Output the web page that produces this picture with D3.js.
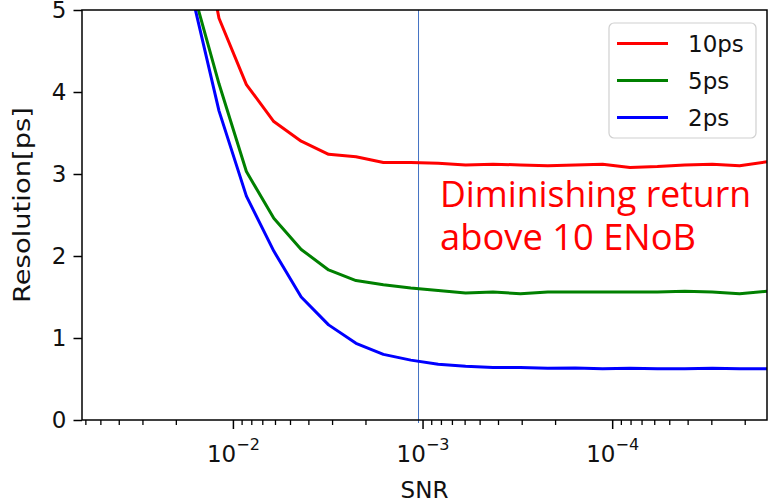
<!DOCTYPE html>
<html>
<head>
<meta charset="utf-8">
<script src="https://cdn.jsdelivr.net/npm/d3@7"></script>
<style>
  body { margin: 0; background: #fff; }
  svg { display: block; }
  .tick text { font-family: "DejaVu Sans", sans-serif; }
</style>
</head>
<body>
<svg width="769" height="503"></svg>
<script>
// effective number of bits for each simulated point, SNR = 2^-ENoB
const enob = [4, 4.48, 4.96, 5.44, 5.92, 6.4, 6.88, 7.36, 7.84, 8.32, 8.8, 9.28, 9.76,
              10.24, 10.72, 11.2, 11.68, 12.16, 12.64, 13.12, 13.6, 14.08, 14.56, 15.04, 15.52, 16];

// resolution [ps] for each sampling jitter
const res10 = [30, 20, 13, 9, 6.6, 4.9, 4.09, 3.64, 3.40, 3.24, 3.21, 3.14, 3.14,
               3.13, 3.11, 3.12, 3.11, 3.10, 3.11, 3.12, 3.08, 3.09, 3.11, 3.12, 3.10, 3.15];
const res5  = [17, 13, 10, 7.5, 5.3, 4.1, 3.03, 2.46, 2.08, 1.83, 1.70, 1.65, 1.61,
               1.58, 1.55, 1.56, 1.54, 1.56, 1.56, 1.56, 1.56, 1.56, 1.57, 1.56, 1.54, 1.57];
const res2  = [16, 12.5, 9.5, 7.0, 5.2, 3.77, 2.73, 2.06, 1.50, 1.16, 0.935, 0.80, 0.73,
               0.68, 0.655, 0.64, 0.64, 0.63, 0.635, 0.625, 0.63, 0.625, 0.625, 0.63, 0.625, 0.625];

const seriesNames = ["10ps", "5ps", "2ps"];
const seriesColors = ["#ff0000", "#008000", "#0000ff"];
const seriesValues = [res10, res5, res2];

const xMajor = [1e-2, 1e-3, 1e-4];
const xMajorExp = ["\u22122", "\u22123", "\u22124"];
const yTicks = [0, 1, 2, 3, 4, 5];
const markerSNR = 1.05e-3;   // "10 ENoB" marker

(function() {
const svg = d3.select("svg");
const pl = 82, pr = 767, pt = 10, pb = 420;

const x = d3.scaleLog().domain([Math.pow(2, -4), Math.pow(2, -16)]).range([pl, pr]);
const y = d3.scaleLinear().domain([0, 5]).range([pb, pt]);

svg.append("clipPath").attr("id", "plot")
  .append("rect").attr("x", pl).attr("y", pt).attr("width", pr - pl).attr("height", pb - pt);

// minor ticks
const minor = [];
for (let e = -5; e <= -2; e++) {
  for (let m = 2; m <= 9; m++) {
    const v = m * Math.pow(10, e);
    if (v <= x.domain()[0] && v >= x.domain()[1]) minor.push(v);
  }
}
svg.append("g")
  .attr("transform", `translate(0,${pb})`)
  .call(d3.axisBottom(x).tickValues(minor).tickSize(5).tickFormat(""))
  .call(g => g.select(".domain").remove())
  .selectAll("line").attr("stroke", "#000").attr("stroke-width", 1.3);

const xAxis = svg.append("g")
  .attr("transform", `translate(0,${pb})`)
  .call(d3.axisBottom(x).tickValues(xMajor).tickSize(9).tickPadding(8).tickFormat(() => "10"));
xAxis.select(".domain").remove();
xAxis.selectAll("line").attr("stroke", "#000").attr("stroke-width", 1.5);
xAxis.selectAll("text")
  .attr("font-size", 23).attr("fill", "#111").attr("dy", "1.1em")
  .each(function(d, i) {
    d3.select(this).append("tspan")
      .attr("font-size", 16).attr("dy", "-0.75em")
      .text(xMajorExp[i]);
  });

const yAxis = svg.append("g")
  .attr("transform", `translate(${pl},0)`)
  .call(d3.axisLeft(y).tickValues(yTicks).tickSize(8.5).tickPadding(7).tickFormat(d3.format("d")));
yAxis.select(".domain").remove();
yAxis.selectAll("line").attr("stroke", "#000").attr("stroke-width", 1.5);
yAxis.selectAll("text").attr("font-size", 23).attr("fill", "#111");

// 10 ENoB marker
svg.append("line")
  .attr("x1", x(markerSNR)).attr("x2", x(markerSNR))
  .attr("y1", pt).attr("y2", pb + 3)
  .attr("stroke", "#4472c4").attr("stroke-width", 1);

// curves
const line = d3.line()
  .x((d, i) => x(Math.pow(2, -enob[i])))
  .y(d => y(d));

const plot = svg.append("g").attr("clip-path", "url(#plot)");
seriesValues.forEach((vals, k) => {
  plot.append("path")
    .attr("d", line(vals))
    .attr("fill", "none")
    .attr("stroke", seriesColors[k])
    .attr("stroke-width", 3)
    .attr("stroke-linejoin", "round");
});

// frame
svg.append("rect")
  .attr("x", pl).attr("y", pt).attr("width", pr - pl).attr("height", pb - pt)
  .attr("fill", "none").attr("stroke", "#000").attr("stroke-width", 1.5);

// annotation
svg.append("text")
  .attr("x", 440).attr("y", 207)
  .attr("fill", "#ff0000")
  .attr("font-family", "'Open Sans', 'Noto Sans', sans-serif")
  .attr("font-size", 37).attr("textLength", 311).attr("lengthAdjust", "spacingAndGlyphs")
  .text("Diminishing return");
svg.append("text")
  .attr("x", 440).attr("y", 250)
  .attr("fill", "#ff0000")
  .attr("font-family", "'Open Sans', 'Noto Sans', sans-serif")
  .attr("font-size", 37).attr("textLength", 256).attr("lengthAdjust", "spacingAndGlyphs")
  .text("above 10 ENoB");

// legend
const legend = svg.append("g");
legend.append("rect")
  .attr("x", 609).attr("y", 23).attr("width", 147).attr("height", 115)
  .attr("rx", 5).attr("fill", "#fff").attr("fill-opacity", 0.8)
  .attr("stroke", "#d0d0d0").attr("stroke-width", 1.2);
seriesNames.forEach((name, k) => {
  const ly = 43.5 + k * 37;
  legend.append("line")
    .attr("x1", 617).attr("x2", 668).attr("y1", ly).attr("y2", ly)
    .attr("stroke", seriesColors[k]).attr("stroke-width", 3);
  legend.append("text")
    .attr("x", 688).attr("y", ly + 8)
    .attr("font-family", "'DejaVu Sans', sans-serif").attr("font-size", 23)
    .attr("fill", "#111").text(name);
});

// axis labels
svg.append("text")
  .attr("x", (pl + pr) / 2).attr("y", 498)
  .attr("text-anchor", "middle")
  .attr("font-family", "'DejaVu Sans', sans-serif").attr("font-size", 23)
  .attr("fill", "#111").text("SNR");
svg.append("text")
  .attr("transform", `translate(30,${(pt + pb) / 2 - 10}) rotate(-90)`)
  .attr("text-anchor", "middle")
  .attr("font-family", "'DejaVu Sans', sans-serif").attr("font-size", 23)
  .attr("textLength", 196).attr("lengthAdjust", "spacingAndGlyphs")
  .attr("fill", "#111").text("Resolution[ps]");
}());
</script>
</body>
</html>
